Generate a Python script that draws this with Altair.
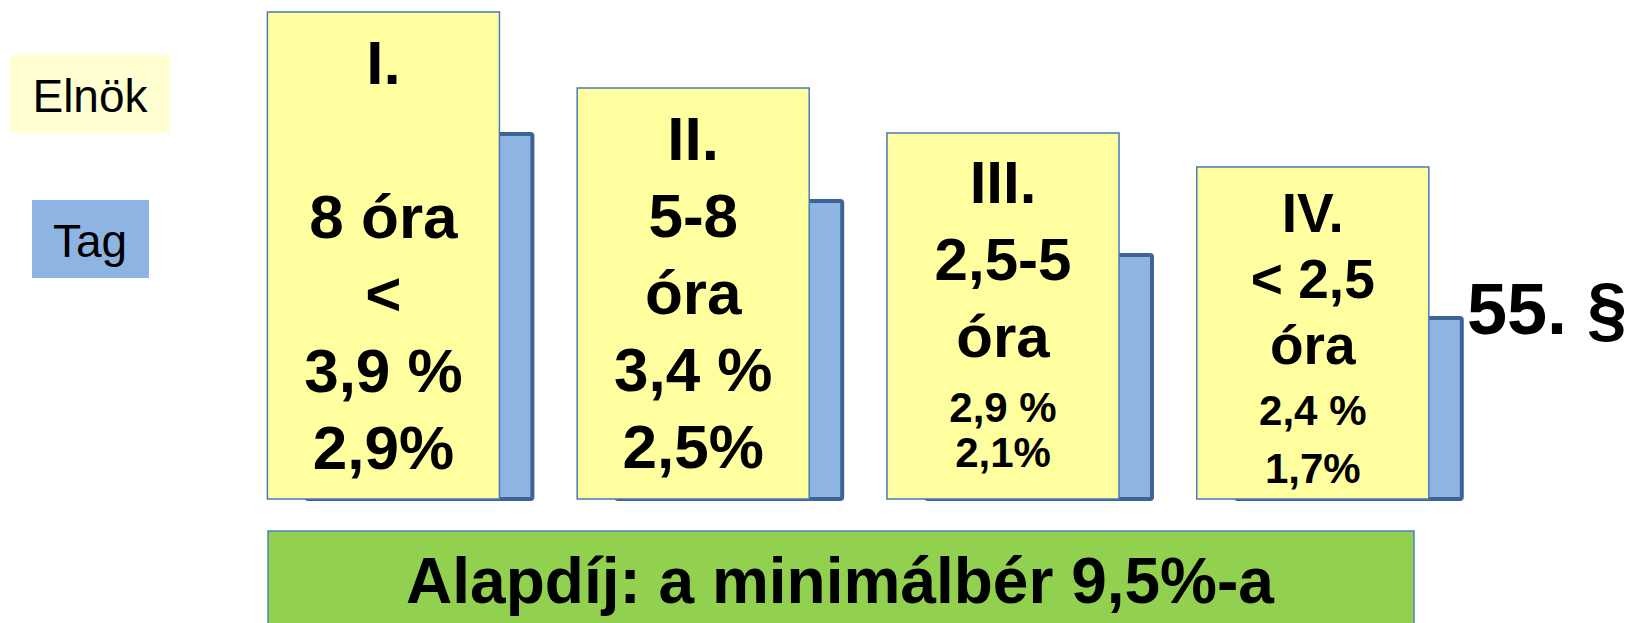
import altair as alt
import pandas as pd

# ---- data ----
tiers = ["I.", "II.", "III.", "IV."]
hour_labels = ["8 óra\n<", "5-8\nóra", "2,5-5\nóra", "< 2,5\nóra"]
elnok_rates = ["3,9 %", "3,4 %", "2,9 %", "2,4 %"]
tag_rates = ["2,9%", "2,5%", "2,1%", "1,7%"]
elnok_bar = [487, 411, 366, 332]   # height of the yellow (Elnök) bars
tag_bar = [368, 301, 247, 184]     # height of the blue (Tag) bars
series = ["Elnök", "Tag"]
base_fee = "Alapdíj: a minimálbér 9,5%-a"
section = "55. §"

FONT = "Liberation Sans"
YELLOW = "#FFFFA0"
YELLOW_LEG = "#FFFFD2"
BLUE = "#8EB4E3"
BLUE_EDGE = "#3D6494"
GREEN = "#92D050"
EDGE = "#4A7AB5"

df = pd.DataFrame({
    "tier": tiers,
    "hours": hour_labels,
    "elnok_rate": elnok_rates,
    "tag_rate": tag_rates,
    "elnok": elnok_bar,
    "tag": tag_bar,
})
df["rates"] = df["elnok_rate"] + "\n" + df["tag_rate"]
df["head"] = df["tier"] + "\n" + df["hours"]
df["body"] = df["hours"] + "\n" + df["rates"]
df["full"] = df["head"] + "\n" + df["rates"]

W, H = 1619, 615

x = alt.X(
    "tier:N",
    scale=alt.Scale(domain=tiers, range=[259.4, 1420.8], paddingInner=0.251, paddingOuter=0),
    axis=None,
)
yscale = alt.Scale(domain=[-124, 491], nice=False, zero=False)

base = alt.Chart(df)

blue = base.mark_bar(
    width=226, xOffset=36, yOffset=3, fill=BLUE, stroke=BLUE_EDGE,
    strokeWidth=4, cornerRadius=2,
).encode(x=x, y=alt.Y("tag:Q", scale=yscale, axis=None), y2=alt.datum(0))

yellow = base.mark_bar(
    fill=YELLOW, stroke=EDGE, strokeWidth=1.5,
).encode(x=x, y=alt.Y("elnok:Q", scale=yscale, axis=None), y2=alt.datum(0))


def tier_text(tiers_sel, field, size, lh, dy):
    return base.transform_filter(
        alt.FieldOneOfPredicate(field="tier", oneOf=tiers_sel)
    ).mark_text(
        font=FONT, fontWeight="bold", fontSize=size, lineHeight=lh,
        lineBreak="\n", baseline="alphabetic", align="center", dy=dy, color="black",
    ).encode(x=x, y=alt.Y("elnok:Q", scale=yscale, axis=None), text=f"{field}:N")


t1a = tier_text(["I."], "tier", 62, 77, 72)
t1b = tier_text(["I."], "body", 62, 77, 226)
t2 = tier_text(["II."], "full", 62, 77, 72)
t3 = tier_text(["III."], "head", 60, 77, 70)
t4 = tier_text(["IV."], "head", 55, 66, 65)
t3s = tier_text(["III."], "rates", 42, 45, 289)
t4s = tier_text(["IV."], "rates", 42, 58, 258)

# footer box
foot_df = pd.DataFrame({"label": [base_fee]})
foot_box = alt.Chart(foot_df).mark_rect(
    fill=GREEN, stroke="#4F81BD", strokeWidth=1.5
).encode(x=alt.value(260), x2=alt.value(1406), y=alt.value(523), y2=alt.value(640))
foot_txt = alt.Chart(foot_df).mark_text(
    font=FONT, fontWeight="bold", fontSize=64, align="center", baseline="alphabetic",
    color="black",
).encode(x=alt.value(832), y=alt.value(595), text="label:N")

# section label
sec_df = pd.DataFrame({"label": [section]})
sec_txt = alt.Chart(sec_df).mark_text(
    font=FONT, fontWeight="bold", fontSize=72, align="left", baseline="alphabetic",
    color="black",
).encode(x=alt.value(1459), y=alt.value(326), text="label:N")

# legend
leg_df = pd.DataFrame({"series": series})
leg_e = alt.Chart(leg_df).transform_filter(alt.datum.series == series[0])
leg_t = alt.Chart(leg_df).transform_filter(alt.datum.series == series[1])
leg_e_box = leg_e.mark_rect(fill=YELLOW_LEG).encode(
    x=alt.value(2), x2=alt.value(162), y=alt.value(47), y2=alt.value(125))
leg_t_box = leg_t.mark_rect(fill=BLUE).encode(
    x=alt.value(24), x2=alt.value(141), y=alt.value(192), y2=alt.value(270))
leg_e_txt = leg_e.mark_text(
    font=FONT, fontSize=46, align="center", baseline="alphabetic", color="black"
).encode(x=alt.value(82), y=alt.value(104), text="series:N")
leg_t_txt = leg_t.mark_text(
    font=FONT, fontSize=46, align="center", baseline="alphabetic", color="black"
).encode(x=alt.value(82), y=alt.value(249), text="series:N")

chart = alt.layer(
    blue, yellow, t1a, t1b, t2, t3, t4, t3s, t4s,
    foot_box, foot_txt, sec_txt,
    leg_e_box, leg_t_box, leg_e_txt, leg_t_txt,
).properties(
    width=W, height=H, padding=0, autosize="none",
).configure_view(strokeWidth=0)

chart.save("out.html", embed_options={"renderer": "svg", "actions": False})
